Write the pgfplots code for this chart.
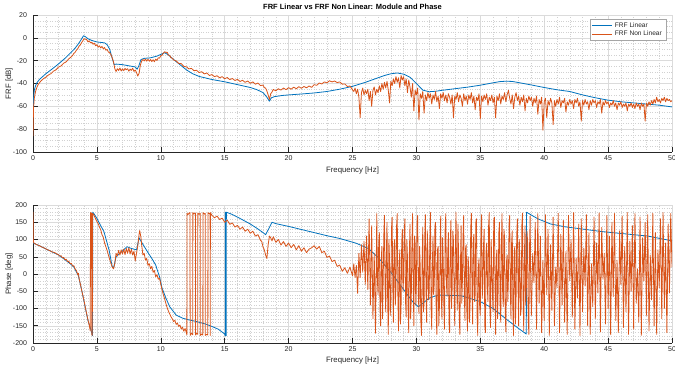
\documentclass[border=0pt]{standalone}
\usepackage{fontspec}
\setmainfont{Liberation Sans}
\usepackage{pgfplots}
\pgfplotsset{compat=1.18}
\definecolor{mblue}{rgb}{0,0.447,0.741}
\definecolor{morange}{rgb}{0.85,0.325,0.098}
\definecolor{axgray}{rgb}{0.15,0.15,0.15}
\pgfplotsset{
  mystyle/.style={
    scale only axis, width=639pt,
    xmin=0, xmax=50, xtick distance=5,
    minor x tick num=4,
    axis x line*=bottom, axis y line*=left,
    axis line style={axgray, line width=0.5pt},
    tick align=inside, major tick length=5pt, minor tick length=0pt,
    tick style={axgray, line width=0.5pt},
    grid=both,
    major grid style={color=black!14, line width=0.45pt},
    minor grid style={color=black!18, dotted, line width=0.4pt},
    /pgf/number format/assume math mode=true,
    ticklabel style={font=\fontsize{7}{8}\selectfont, text=axgray},
    xticklabel style={yshift=-0.5pt},
    yticklabel style={xshift=-2.5pt},
    label style={font=\fontsize{7.8}{9}\selectfont, text=axgray},
    xlabel style={at={(axis description cs:0.5,0)}, anchor=center, yshift=-18pt},
    ylabel style={at={(axis description cs:0,0.5)}, anchor=center, yshift=24pt},
    xlabel={Frequency [Hz]},
    every axis plot/.append style={line width=0.8pt, line join=round},
  }
}
\begin{document}
\begin{tikzpicture}
\useasboundingbox (0,0) rectangle (675pt,369pt);
\begin{axis}[mystyle,
  at={(33pt,217pt)}, anchor=south west, height=137pt,
  ymin=-100, ymax=20, ytick distance=20, minor y tick num=3,
  ylabel={FRF [dB]},
  title={\bfseries FRF Linear vs FRF Non Linear: Module and Phase},
  title style={font=\fontsize{7.5}{9}\selectfont, at={(axis description cs:0.5,1)}, anchor=center, yshift=2pt, inner sep=0pt},
  legend style={at={(axis description cs:1,1)}, anchor=north east, xshift=-6pt, yshift=-4pt,
    draw=black!35, line width=0.4pt, fill=white, font=\fontsize{6.6}{7.5}\selectfont, text=axgray,
    inner xsep=2pt, inner ysep=1.2pt, row sep=-1.5pt},
  legend cell align=left,
  legend image code/.code={\draw[#1] (0pt,0pt) -- (20pt,0pt);},
]
\addplot[mblue] coordinates {(0,-68)(0.05,-52)(0.1,-46)(0.2,-42)(0.3,-39.5)(0.5,-36.5)(0.8,-33.5)(1,-31.5)(1.5,-27.3)(2,-22.8)(2.5,-18)(3,-12.5)(3.3,-9)(3.6,-4.5)(3.8,-1)(3.95,1.8)(4.1,1)(4.3,-0.8)(4.6,-2.3)(5,-3.6)(5.3,-4)(5.6,-4.4)(5.8,-6)(6,-10)(6.2,-18)(6.35,-23.5)(6.5,-23)(7,-23.5)(7.5,-24.5)(8,-25.5)(8.15,-27.5)(8.3,-24)(8.45,-19)(8.7,-18)(9.2,-17.5)(9.7,-16)(10,-14.5)(10.3,-13)(10.6,-15)(11,-19)(11.5,-23.5)(12,-28)(12.5,-31.5)(13,-33.8)(14,-36.5)(15,-38.5)(16,-41)(17,-43.5)(17.5,-45.3)(18,-48)(18.3,-52)(18.5,-55.5)(18.65,-52.5)(18.9,-51.5)(19.5,-50.5)(20,-50)(21,-49.2)(22,-48.3)(23,-47)(24,-45)(25,-42.5)(26,-39)(27,-35)(27.5,-33)(28,-31.5)(28.5,-30.8)(29,-31.8)(29.5,-34.5)(30,-40)(30.5,-45.8)(31,-47.2)(31.5,-46.8)(32,-46)(33,-44.6)(34,-43.2)(35,-41.5)(36,-39.4)(36.5,-38.4)(37,-38)(37.5,-38.2)(38,-39.2)(39,-41.3)(40,-43.5)(41,-45.5)(42,-47)(43,-50)(44,-52.5)(45,-54.6)(46,-56)(47,-57)(48,-58)(49,-59)(50,-60.5)};
\addlegendentry{FRF Linear}
\addplot[morange] coordinates {(0,-86)(0.04,-62)(0.1,-53)(0.2,-47)(0.3,-43.5)(0.4,-41)(0.5,-39.5)(0.6,-38)(0.7,-37)(0.8,-36)(0.9,-35.2)(1.0,-34.5)(1.2,-32.6)(1.4,-31.4)(1.6,-29.2)(1.8,-28)(2.0,-25.6)(2.2,-24.6)(2.4,-22.2)(2.6,-21)(2.8,-18.4)(3.0,-16.6)(3.1,-15.4)(3.2,-13.6)(3.3,-12.6)(3.4,-10.8)(3.5,-9.6)(3.6,-7.4)(3.7,-6.2)(3.8,-4.2)(3.9,-2.6)(4.0,-0.8)(4.1,-1.2)(4.2,-1.5)(4.3,-3.6)(4.4,-2.6)(4.5,-4.4)(4.6,-3.8)(4.7,-5.6)(4.8,-4.8)(4.9,-6.9)(5.0,-6.0)(5.1,-8.2)(5.2,-7.0)(5.3,-8.8)(5.4,-7.6)(5.5,-9.6)(5.6,-8.5)(5.7,-10.8)(5.8,-10.2)(5.9,-12.5)(6.0,-13)(6.1,-14.8)(6.2,-17.5)(6.3,-21)(6.4,-27)(6.5,-29.5)(6.6,-27)(6.7,-28.6)(6.8,-26.5)(6.9,-29)(7.0,-27.2)(7.1,-28.8)(7.2,-26.8)(7.3,-28)(7.4,-27)(7.5,-29.2)(7.6,-27.4)(7.7,-28.5)(7.8,-26.6)(7.9,-29.4)(8.0,-28.2)(8.1,-30.5)(8.2,-33.5)(8.3,-31)(8.4,-24)(8.5,-20.5)(8.6,-19)(8.7,-20.2)(8.8,-18.6)(8.9,-20.4)(9.0,-18.8)(9.1,-20.5)(9.2,-19)(9.3,-20.8)(9.4,-19.2)(9.5,-21)(9.6,-18.6)(9.7,-19.8)(9.8,-17.5)(9.9,-17.8)(10.0,-15.6)(10.1,-15.2)(10.2,-13.4)(10.3,-12.2)(10.4,-12.8)(10.5,-12.6)(10.6,-15.2)(10.7,-15.4)(10.8,-17.6)(10.9,-17.8)(11.0,-19.4)(11.2,-20.2)(11.4,-22.4)(11.6,-22.6)(11.8,-25)(12.0,-25.4)(12.2,-27.2)(12.4,-26.8)(12.6,-28.8)(12.8,-28.4)(13.0,-30.5)(13.2,-29.6)(13.4,-31.6)(13.6,-30.8)(13.8,-33)(14.0,-32.2)(14.2,-34)(14.4,-33.2)(14.6,-35)(14.8,-34)(15.0,-35.8)(15.2,-34.8)(15.4,-36.6)(15.6,-35.6)(15.8,-37.4)(16.0,-36.4)(16.2,-38.2)(16.4,-37.2)(16.6,-39)(16.8,-37.8)(17.0,-39.8)(17.2,-38.6)(17.4,-40.6)(17.6,-39.6)(17.8,-41.8)(18.0,-41.4)(18.1,-43.6)(18.2,-44)(18.3,-46.5)(18.4,-50)(18.5,-54)(18.6,-49)(18.7,-47.5)(18.8,-45.2)(19.0,-46.4)(19.2,-44.6)(19.4,-45.8)(19.6,-44)(19.8,-45.4)(20.0,-43.6)(20.2,-45)(20.4,-43.2)(20.6,-44.6)(20.8,-42.8)(21.0,-44.2)(21.2,-42.6)(21.4,-43.8)(21.6,-42.2)(21.8,-43.4)(22.0,-41)(22.2,-41.6)(22.4,-39.6)(22.6,-40.4)(22.8,-38.6)(23.0,-39.4)(23.2,-37.6)(23.4,-38.6)(23.6,-37.8)(23.8,-39.2)(24.0,-38.6)(24.2,-40.6)(24.4,-40.4)(24.6,-42.6)(24.8,-42.2)(25.0,-45.5)
(25.1,-47)(25.2,-44)(25.3,-49)(25.4,-45)(25.5,-52)(25.6,-70)(25.7,-48)(25.8,-44)(25.9,-50)(26.0,-46)(26.1,-49)(26.2,-45)(26.3,-55)(26.4,-47)(26.5,-60)(26.6,-46)(26.7,-43)(26.8,-50)(26.9,-45)(27.0,-48)(27.1,-42)(27.2,-47)(27.3,-40)(27.4,-45)(27.5,-39)(27.6,-44)(27.7,-38)(27.8,-46)(27.9,-57)(28.0,-38)(28.1,-42)(28.2,-36)(28.3,-40)(28.4,-34)(28.5,-39)(28.6,-35)(28.7,-44)(28.8,-33)(28.9,-37)(29.0,-34)(29.1,-42)(29.2,-36)(29.3,-48)(29.4,-37)(29.5,-43)(29.6,-52)(29.7,-40)(29.8,-64)(29.9,-46)(30.0,-50)(30.1,-44)(30.2,-72)(30.3,-49)(30.4,-53)(30.5,-47)(30.6,-66)(30.7,-50)(30.8,-55)(30.9,-48)(31.0,-53)(31.1,-49)(31.2,-58)(31.3,-50)(31.4,-54)(31.5,-47)(31.6,-56)(31.7,-51)(31.8,-62)(31.9,-49)(32.0,-53)(32.1,-48)(32.2,-55)(32.3,-50)(32.4,-57)(32.5,-49)(32.6,-52)(32.7,-58)(32.8,-50)(32.9,-70)(33.0,-51)(33.1,-54)(33.2,-48)(33.3,-56)(33.4,-50)(33.5,-53)(33.6,-60)(33.7,-49)(33.8,-55)(33.9,-51)(34.0,-58)(34.1,-50)(34.2,-54)(34.3,-48)(34.4,-57)(34.5,-51)(34.6,-63)(34.7,-52)(34.8,-55)(34.9,-49)(35.0,-71)(35.1,-51)(35.2,-56)(35.3,-50)(35.4,-54)(35.5,-49)(35.6,-59)(35.7,-52)(35.8,-55)(35.9,-50)(36.0,-57)(36.1,-52)(36.2,-70)(36.3,-51)(36.4,-55)(36.5,-49)(36.6,-58)(36.7,-51)(36.8,-54)(36.9,-48)(37.0,-56)(37.1,-50)(37.2,-46)(37.3,-53)(37.4,-58)(37.5,-50)(37.6,-62)(37.7,-52)(37.8,-48)(37.9,-55)(38.0,-51)(38.1,-59)(38.2,-52)(38.3,-56)(38.4,-50)(38.5,-64)(38.6,-53)(38.7,-57)(38.8,-51)(38.9,-55)(39.0,-52)(39.1,-60)(39.2,-53)(39.3,-57)(39.4,-51)(39.5,-67)(39.6,-54)(39.7,-58)(39.8,-52)(39.9,-81)(40.0,-56)(40.1,-53)(40.2,-70)(40.3,-55)(40.4,-59)(40.5,-53)(40.6,-57)(40.7,-76)(40.8,-55)(40.9,-60)(41.0,-54)(41.1,-58)(41.2,-52)(41.3,-61)(41.4,-55)(41.5,-57)(41.6,-53)(41.7,-65)(41.8,-56)(41.9,-59)(42.0,-54)(42.1,-58)(42.2,-55)(42.3,-62)(42.4,-54)(42.5,-57)(42.6,-53)(42.7,-60)(42.8,-56)(42.9,-73)(43.0,-55)(43.1,-59)(43.2,-54)(43.3,-58)(43.4,-56)(43.5,-63)(43.6,-55)(43.7,-59)(43.8,-54)(43.9,-57)(44.0,-55)(44.1,-61)(44.2,-56)(44.3,-58)(44.4,-54)(44.5,-66)(44.6,-56)(44.7,-59)(44.8,-55)(44.9,-58)(45.0,-56)(45.1,-61)(45.2,-57)(45.3,-59)(45.4,-55)(45.5,-60)(45.6,-57)(45.7,-63)(45.8,-57)(45.9,-59)(46.0,-56)(46.1,-61)(46.2,-58)(46.3,-60)(46.4,-57)(46.5,-64)(46.6,-58)(46.7,-60)(46.8,-57)(46.9,-61)(47.0,-58)(47.1,-62)(47.2,-57)(47.3,-60)(47.4,-58)(47.5,-63)(47.6,-57)(47.7,-60)(47.8,-58)(47.9,-73)(48.0,-57)(48.1,-60)(48.2,-56)(48.3,-59)(48.4,-55)(48.5,-58)(48.6,-54)(48.7,-57)(48.8,-52)(48.9,-56)(49.0,-54)(49.1,-57)(49.2,-53)(49.3,-55)(49.4,-52)(49.5,-56)(49.6,-53)(49.7,-55)(49.8,-54)(49.9,-56)(50.0,-55)};
\addlegendentry{FRF Non Linear}
\end{axis}
\begin{axis}[mystyle,
  at={(33pt,26pt)}, anchor=south west, height=138pt,
  ymin=-200, ymax=200, ytick distance=50, minor y tick num=4,
  ylabel={Phase [deg]},
  xlabel style={yshift=1pt},
]
\addplot[mblue] coordinates {(0,90)(0.5,82)(1.16,70)(2,55)(2.45,43)(3,27)(3.2,20)(3.55,-5)(3.8,-45)(4.05,-90)(4.3,-135)(4.5,-158)(4.64,-176)(4.66,-179)(4.67,179)(4.75,176)(5.0,161)(5.3,140)(5.55,123)(5.95,70)(6.2,21)(6.3,17)(6.5,50)(6.95,65)(7.35,79)(7.7,74)(8.1,70)(8.3,105)(8.45,95)(8.7,80)(9.0,62)(9.3,45)(9.6,26)(9.9,-8)(10.1,-41)(10.4,-70)(10.7,-95)(11.2,-119)(11.7,-128)(12.2,-133)(12.7,-137)(13.5,-145)(14,-152)(14.5,-160)(15.0,-174)(15.04,-179)(15.05,179)(15.07,-179)(15.09,179)(15.11,-179)(15.13,179)(15.5,174)(16,165)(17,145)(17.5,133)(18,120)(18.2,114)(18.4,128)(18.7,150)(19,146)(20,138)(21,129)(22,120)(23,111)(24,103)(25.3,89)(26.24,74)(27,48)(28,5)(29,-45)(29.7,-80)(30.15,-95)(30.5,-85)(31,-70)(31.7,-61)(33.5,-63)(35,-80)(36,-100)(37,-130)(38,-158)(38.6,-174)(38.62,179)(39.5,160)(40.5,145)(41.6,137)(44.5,123)(48.1,110)(50,96)};
\addplot[morange] coordinates {(0,180)(0.03,92)(0.1,89)(0.3,85)(0.5,82)(0.7,78)(0.9,75)(1.1,71)(1.3,68)(1.5,64)(1.7,62)(1.9,57)(2.0,56)(2.1,52)(2.2,53)(2.3,47)(2.4,48)(2.5,41)(2.6,43)(2.7,36)(2.8,37)(2.9,30)(3.0,31)(3.1,23)(3.2,24)(3.3,14)(3.4,10)(3.5,-2)(3.55,2)(3.6,-12)(3.7,-28)(3.8,-46)(3.9,-62)(4.0,-78)(4.1,-98)(4.2,-115)(4.3,-133)(4.4,-148)(4.48,-165)(4.5,178)(4.58,176)(4.6,-176)(4.64,-178)(4.66,176)(4.76,171)(4.9,160)(5.0,152)(5.1,146)(5.2,136)(5.3,128)(5.4,114)(5.5,106)(5.6,90)(5.7,79)(5.8,68)(5.9,55)(6.0,42)(6.1,31)(6.2,20)(6.3,15)(6.4,30)(6.5,60)(6.6,52)(6.7,68)(6.8,55)(6.9,70)(7.0,58)(7.1,72)(7.2,56)(7.3,74)(7.4,60)(7.5,76)(7.6,58)(7.7,72)(7.8,55)(7.9,66)(8.0,38)(8.1,60)(8.2,82)(8.3,115)(8.35,126)(8.45,105)(8.5,85)(8.6,55)(8.7,60)(8.8,40)(8.9,45)(9.0,25)(9.1,30)(9.2,15)(9.3,22)(9.4,5)(9.5,10)(9.6,-8)(9.7,-2)(9.8,-15)(9.9,-12)(10.0,-30)(10.1,-46)(10.2,-60)(10.3,-72)(10.4,-86)(10.5,-98)(10.6,-108)(10.7,-116)(10.8,-124)(10.9,-130)(11.0,-138)(11.1,-134)(11.2,-146)(11.3,-142)(11.4,-152)(11.5,-148)(11.6,-160)(11.7,-154)(11.8,-166)(11.9,-158)(12.0,-170)(12.04,-176)(12.05,176)(12.12,172)(12.2,176)(12.28,178)(12.3,-178)(12.4,-172)(12.5,-176)(12.51,178)(12.6,174)(12.71,177)(12.72,-177)(12.8,-172)(12.89,-175)(12.9,177)(13.0,173)(13.08,176)(13.09,-178)(13.2,-174)(13.29,-177)(13.3,178)(13.4,174)(13.47,176)(13.48,-178)(13.58,-175)(13.68,-177)(13.69,178)(13.78,175)(13.86,176)(13.87,-178)(13.88,178)(14.0,170)(14.2,163)(14.4,168)(14.6,158)(14.8,162)(15.0,150)(15.2,156)(15.4,144)(15.6,148)(15.8,136)(16.0,141)(16.2,130)(16.4,136)(16.6,124)(16.8,130)(17.0,118)(17.2,124)(17.4,110)(17.6,114)(17.8,98)(17.9,94)(18.0,78)(18.1,70)(18.2,55)(18.3,45)(18.4,85)(18.5,110)(18.6,105)(18.7,96)(18.8,108)(19.0,92)(19.2,100)(19.4,84)(19.6,94)(19.8,80)(20.0,90)(20.2,76)(20.4,86)(20.6,70)(20.8,82)(21.0,66)(21.2,76)(21.4,62)(21.6,72)(21.8,76)(22.0,82)(22.2,72)(22.4,80)(22.6,62)(22.8,66)(23.0,48)(23.2,52)(23.4,36)(23.6,40)(23.8,22)(24.0,26)(24.2,8)(24.4,18)(24.6,2)(24.8,20)(25.0,-5)(25.1,30)(25.2,-10)(25.3,25)
(25.4,-56)(25.5,60)(25.6,-10)(25.7,85)(25.8,5)(25.9,95)(26.0,-30)(26.1,110)(26.2,-45)(26.3,160)(26.4,-90)(26.5,140)(26.6,-130)(26.7,60)(26.8,-172)(26.9,175)
(26.95,-20)(27.0,-60)(27.05,90)(27.1,120)(27.15,-95)(27.2,-150)(27.25,40)(27.3,80)(27.35,-130)(27.4,-20)(27.45,110)(27.5,170)(27.55,-40)(27.6,-110)(27.65,60)(27.7,150)(27.75,-70)(27.8,-175)(27.85,100)(27.9,40)(27.95,-120)(28.0,-80)(28.05,130)(28.1,165)(28.15,-30)(28.2,-140)(28.25,75)(28.3,100)(28.35,-90)(28.4,-40)(28.45,140)(28.5,175)(28.55,-60)(28.6,-165)(28.65,20)(28.7,70)(28.75,-145)(28.8,-100)(28.85,90)(28.9,130)(28.95,-50)(29.0,-10)(29.05,120)(29.1,160)(29.15,-80)(29.2,-125)(29.25,100)(29.3,50)(29.35,-100)(29.4,-170)(29.45,60)(29.5,145)(29.55,-130)(29.6,-70)(29.65,85)(29.7,175)(29.75,-20)(29.8,-150)(29.85,110)(29.9,90)(29.95,-90)(30.0,-30)(30.05,150)(30.1,170)(30.15,-60)(30.2,-115)(30.25,80)(30.3,20)(30.35,-140)(30.4,-178)(30.45,45)(30.5,135)(30.55,-110)(30.6,-85)(30.65,100)(30.7,172)(30.75,-40)(30.8,-140)(30.85,125)(30.9,65)(30.95,-75)(31.0,-55)(31.05,95)(31.1,178)(31.15,-100)(31.2,-160)(31.25,30)(31.3,110)(31.35,-60)(31.4,-25)(31.45,140)(31.5,150)(31.55,-120)(31.6,-175)(31.65,70)(31.7,80)(31.75,-150)(31.8,-95)(31.85,40)(31.9,168)(31.95,-70)(32.0,-130)(32.05,105)(32.1,35)(32.15,-90)(32.2,-160)(32.25,135)(32.3,175)(32.35,-30)(32.4,-65)(32.45,60)(32.5,120)(32.55,-140)(32.6,-170)(32.65,90)(32.7,155)(32.75,-100)(32.8,-40)(32.85,125)(32.9,95)(32.95,-55)(33.0,-150)(33.05,70)(33.1,178)(33.15,-20)(33.2,-105)(33.25,145)(33.3,60)(33.35,-120)(33.4,-175)(33.45,30)(33.5,140)(33.55,-85)(33.6,-20)(33.65,110)(33.7,170)(33.75,-60)(33.8,-135)(33.85,75)(33.9,85)(33.95,-110)(34.0,-165)(34.05,50)(34.1,10)(34.15,-140)(34.2,-90)(34.25,130)(34.3,176)(34.35,-45)(34.4,-145)(34.45,95)(34.5,115)(34.55,-80)(34.6,-60)(34.65,150)(34.7,160)(34.75,-125)(34.8,-178)(34.85,20)(34.9,45)(34.95,-95)(35.0,-120)(35.05,120)(35.1,172)(35.15,-70)(35.2,-30)(35.25,80)(35.3,130)(35.35,-150)(35.4,-170)(35.45,65)(35.5,90)(35.55,-40)(35.6,-80)(35.65,140)(35.7,178)(35.75,-100)(35.8,-155)(35.85,100)(35.9,25)(35.95,-60)(36.0,-110)(36.05,155)(36.1,165)(36.15,-20)(36.2,-175)(36.25,45)(36.3,70)(36.35,-130)(36.4,-45)(36.45,120)(36.5,150)(36.55,-90)(36.6,-140)(36.65,85)(36.7,175)(36.75,-60)(36.8,-95)(36.85,130)(36.9,105)(36.95,-115)(37.0,-168)(37.05,35)(37.1,55)(37.15,-80)(37.2,-15)(37.25,145)(37.3,170)(37.35,-50)(37.4,-130)(37.45,90)(37.5,125)(37.55,-105)(37.6,-178)(37.65,60)(37.7,80)(37.75,-145)(37.8,-70)(37.85,110)(37.9,160)(37.95,-30)(38.0,-150)(38.05,100)(38.1,30)(38.15,-120)(38.2,-100)(38.25,140)(38.3,177)(38.35,-75)(38.4,-165)(38.45,50)(38.5,140)(38.55,-90)(38.6,-50)(38.65,125)(38.7,95)(38.75,-130)(38.8,-175)(38.85,70)(38.9,168)(38.95,-40)(39.0,-120)
(39.1,60)(39.2,-25)(39.3,150)(39.4,-160)(39.5,175)(39.6,-85)(39.7,110)(39.8,-170)(39.9,40)(40.0,-135)(40.1,172)(40.2,-60)(40.3,130)(40.4,-178)(40.5,85)(40.6,-105)(40.7,165)(40.8,-150)(40.9,20)(41.0,-40)(41.1,176)(41.2,-170)(41.3,115)(41.4,-90)(41.5,155)(41.6,-140)(41.7,65)(41.8,-175)(41.9,170)(42.0,-20)(42.1,100)(42.2,-125)(42.3,178)(42.4,-160)(42.5,45)(42.6,-70)(42.7,145)(42.8,-178)(42.9,160)(43.0,-110)(43.1,75)(43.2,-35)(43.3,172)(43.4,-150)(43.5,120)(43.6,-175)(43.7,30)(43.8,-95)(43.9,165)(44.0,-130)(44.1,90)(44.2,-55)(44.3,177)(44.4,-168)(44.5,135)(44.6,-15)(44.7,60)(44.8,-145)(44.9,170)(45.0,-100)(45.1,110)(45.2,-176)(45.3,150)(45.4,-65)(45.5,175)(45.6,-135)(45.7,40)(45.8,-170)(45.9,125)(46.0,-30)(46.1,168)(46.2,-155)(46.3,80)(46.4,-110)(46.5,178)(46.6,-175)(46.7,95)(46.8,-50)(46.9,140)(47.0,-160)(47.1,175)(47.2,-85)(47.3,15)(47.4,-140)(47.5,165)(47.6,-178)(47.7,105)(47.8,-20)(47.9,150)(48.0,-120)(48.1,172)(48.2,-165)(48.3,55)(48.4,-75)(48.5,176)(48.6,-150)(48.7,120)(48.8,-175)(48.9,70)(49.0,-40)(49.1,160)(49.2,-130)(49.3,178)(49.4,-100)(49.5,90)(49.6,-170)(49.7,145)(49.8,-55)(49.9,175)(50.0,20)};
\end{axis}
\end{tikzpicture}
\end{document}
